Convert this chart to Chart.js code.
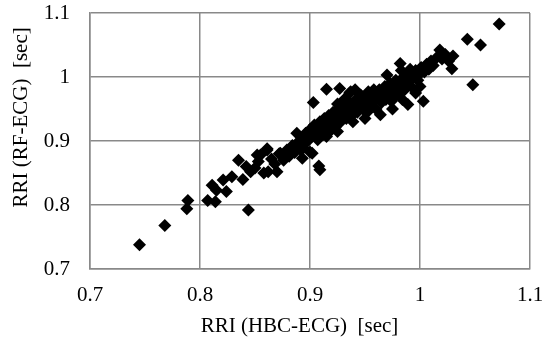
<!DOCTYPE html>
<html>
<head>
<meta charset="utf-8">
<script src="https://cdn.jsdelivr.net/npm/chart.js@4/dist/chart.umd.min.js"></script>
<style>
  html, body { margin: 0; padding: 0; background: #fff; }
  #wrap { width: 543px; height: 341px; }
</style>
</head>
<body>
<div id="wrap"><canvas id="chart"></canvas></div>
<script>
// RRI measured by HBC-ECG (x) vs RF-ECG (y), seconds
const hbcRri = [
  0.745, 0.768, 0.788, 0.789, 0.807, 0.814, 0.844, 0.811, 0.815, 0.821,
  0.824, 0.829, 0.835, 0.839, 0.842, 0.846, 0.850, 0.853, 0.855, 0.858,
  0.861, 0.862, 0.865, 0.868, 0.870, 0.872, 0.873, 0.876, 0.879, 0.881,
  0.884, 0.886, 0.888, 0.889, 0.891, 0.893, 0.894, 0.896, 0.898, 0.900,
  0.900, 0.902, 0.903, 0.904, 0.905, 0.907, 0.908, 0.909, 0.909, 0.910,
  0.912, 0.913, 0.915, 0.915, 0.917, 0.918, 0.920, 0.921, 0.923, 0.925,
  0.926, 0.927, 0.928, 0.930, 0.931, 0.933, 0.935, 0.936, 0.937, 0.938,
  0.940, 0.942, 0.943, 0.945, 0.947, 0.948, 0.950, 0.952, 0.953, 0.955,
  0.957, 0.958, 0.960, 0.961, 0.963, 0.965, 0.966, 0.968, 0.969, 0.970,
  0.971, 0.973, 0.974, 0.975, 0.977, 0.978, 0.979, 0.980, 0.982, 0.982,
  0.983, 0.984, 0.985, 0.986, 0.988, 0.989, 0.989, 0.991, 0.992, 0.994,
  0.996, 0.998, 1.000, 1.001, 1.003, 1.000, 1.004, 1.006, 1.008, 1.010,
  1.012, 1.015, 1.018, 1.020, 1.023, 1.026, 1.029, 1.030, 1.043, 1.048,
  1.055, 1.072, 0.936, 0.941, 0.946, 0.953, 0.958, 0.931, 0.925, 0.915,
  0.925, 0.939, 0.950, 0.964, 0.975, 0.996, 0.893, 0.902, 0.861, 0.852
];
const rfRri = [
  0.738, 0.768, 0.794, 0.807, 0.807, 0.805, 0.792, 0.831, 0.823, 0.839,
  0.821, 0.844, 0.870, 0.840, 0.860, 0.852, 0.858, 0.868, 0.878, 0.850,
  0.886, 0.852, 0.872, 0.864, 0.852, 0.880, 0.881, 0.870, 0.886, 0.876,
  0.893, 0.882, 0.912, 0.898, 0.887, 0.905, 0.889, 0.912, 0.900, 0.883,
  0.918, 0.908, 0.960, 0.925, 0.915, 0.902, 0.861, 0.855, 0.930, 0.918,
  0.910, 0.935, 0.981, 0.925, 0.940, 0.915, 0.930, 0.945, 0.922, 0.937,
  0.950, 0.982, 0.930, 0.942, 0.955, 0.935, 0.948, 0.960, 0.977, 0.940,
  0.952, 0.965, 0.945, 0.958, 0.970, 0.950, 0.962, 0.945, 0.968, 0.955,
  0.975, 0.962, 0.950, 0.968, 0.980, 0.960, 0.972, 0.985, 0.965, 1.003,
  0.975, 0.990, 0.962, 0.980, 0.970, 0.995, 0.985, 0.975, 1.021, 0.990,
  1.010, 0.965, 1.000, 0.980, 1.005, 0.957, 0.992, 1.012, 0.985, 1.000,
  1.010, 0.995, 1.005, 1.015, 0.962, 0.985, 1.008, 1.020, 1.012, 1.025,
  1.018, 1.030, 1.042, 1.028, 1.035, 1.025, 1.013, 1.033, 1.059, 0.988,
  1.050, 1.083, 0.975, 0.980, 0.972, 0.977, 0.980, 0.965, 0.958, 0.907,
  0.915, 0.930, 0.935, 0.941, 0.950, 0.975, 0.873, 0.881, 0.888, 0.878
];
const axisTicks = [0.7, 0.8, 0.9, 1.0, 1.1];

const points = hbcRri.map((x, i) => ({ x: x, y: rfRri[i] }));
const gridColor = "#898989";
const font = { family: "'Liberation Serif', 'Times New Roman', serif", size: 21 };

new Chart(document.getElementById("chart"), {
    type: "scatter",
    data: {
        datasets: [{
            data: points,
            pointStyle: "rectRot",
            pointRadius: 6.5,
            pointBorderWidth: 0,
            backgroundColor: "#000",
            borderColor: "#000",
        }],
    },
    options: {
        responsive: true,
        maintainAspectRatio: false,
        animation: false,
        layout: { padding: { left: 9, right: 13, top: 13, bottom: 2 } },
        plugins: { legend: { display: false }, tooltip: { enabled: false } },
        scales: {
            x: {
                type: "linear",
                min: 0.7,
                max: 1.1,
                afterBuildTicks: (scale) => {
                    scale.ticks = axisTicks.map((v) => ({ value: v }));
                },
                afterFit: (scale) => {
                    scale.height = 70;
                    scale.paddingLeft = 0;
                    scale.paddingRight = 0;
                },
                grid: { color: gridColor, lineWidth: 1.5, drawTicks: false },
                border: { color: gridColor, width: 1.5 },
                ticks: {
                    color: "#000",
                    font: font,
                    padding: 14,
                    callback: (v) => String(Math.round(v * 10) / 10),
                },
                title: {
                    display: true,
                    text: "RRI (HBC-ECG)  [sec]    ",
                    color: "#000",
                    font: font,
                    padding: 0,
                },
            },
            y: {
                type: "linear",
                min: 0.7,
                max: 1.1,
                afterBuildTicks: (scale) => {
                    scale.ticks = axisTicks.map((v) => ({ value: v }));
                },
                afterFit: (scale) => {
                    scale.width = 81;
                    scale.paddingTop = 0;
                    scale.paddingBottom = 0;
                },
                grid: { color: gridColor, lineWidth: 1.5, drawTicks: false },
                border: { color: gridColor, width: 1.5 },
                ticks: {
                    color: "#000",
                    font: font,
                    padding: 20,
                    callback: (v) => String(Math.round(v * 10) / 10),
                },
                title: {
                    display: true,
                    text: "         RRI (RF-ECG)  [sec]",
                    color: "#000",
                    font: font,
                    padding: 0,
                },
            },
        },
    },
});
</script>
</body>
</html>
